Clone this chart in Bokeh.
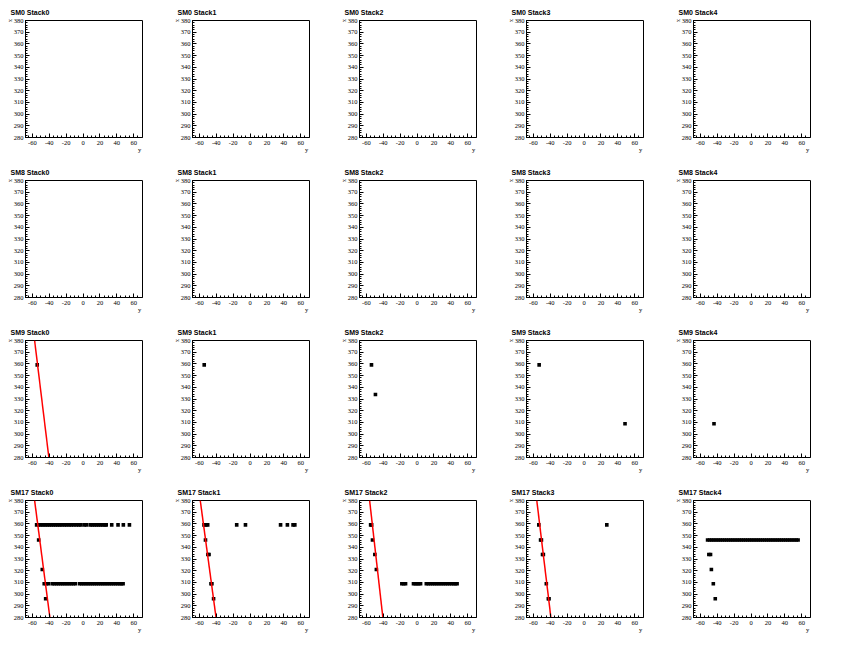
import math
from bokeh.plotting import figure
from bokeh.layouts import gridplot
from bokeh.models import FixedTicker, LinearAxis, Range1d
from bokeh.embed import file_html
from bokeh.resources import INLINE

# ---------------- data ----------------
SM_NAMES = ["SM0", "SM8", "SM9", "SM17"]
STACK_NAMES = ["Stack0", "Stack1", "Stack2", "Stack3", "Stack4"]

X_TICKS = [-60, -40, -20, 0, 20, 40, 60]
X_TICK_LABELS = ["-60", "-40", "-20", "0", "20", "40", "60"]
Y_TICKS = [280, 290, 300, 310, 320, 330, 340, 350, 360, 370, 380]
Y_TICK_LABELS = ["280", "290", "300", "310", "320", "330", "340", "350", "360", "370", "380"]

X_TITLE = "y"   # horizontal axis title (at right end)
Y_TITLE = "x"   # vertical axis title (at top end)

X_RANGE = (-68.2, 70.5)
Y_RANGE = (280, 380)

# hits: layer ("x" value) -> list of "y" values
SM9_STACK0_HITS = {359.2: [-54.3]}
SM9_STACK1_HITS = {359.2: [-54.3]}
SM9_STACK2_HITS = {359.2: [-54.0], 333.8: [-49.3]}
SM9_STACK3_HITS = {359.2: [-53.2], 308.8: [48.6]}
SM9_STACK4_HITS = {308.8: [-43.9]}

SM17_STACK0_HITS = {
    359.2: [-55.0, -52.5, -50.0, -47.5, -45.0, -42.5, -40.0, -37.5, -35.0, -32.5,
            -30.0, -27.5, -25.0, -22.0, -19.5, -16.5, -14.0, -11.0, -8.0, -5.0,
            -2.5, 1.5, 4.0, 8.5, 11.0, 13.5, 16.0, 18.5, 21.0, 23.5, 26.0, 27.5,
            34.0, 41.5, 47.8, 55.0],
    346.3: [-52.6],
    321.0: [-48.3],
    308.8: [-46.0, -43.5, -41.0, -36.5, -34.0, -31.5, -29.0, -26.5, -24.0, -21.5,
            -19.0, -16.5, -14.0, -11.5, -9.0, -4.0, -1.5, 1.0, 3.5, 6.0, 8.5, 11.0,
            13.5, 16.0, 18.5, 21.0, 23.5, 26.0, 28.5, 31.0, 33.5, 36.0, 38.5, 41.0,
            43.5, 45.5, 47.5],
    296.0: [-44.3],
}
SM17_STACK1_HITS = {
    359.2: [-54.6, -52.4, -50.2, -15.8, -5.4, 36.2, 44.3, 51.0, 53.1],
    346.3: [-52.8],
    333.8: [-50.0, -48.6],
    308.8: [-46.3, -45.2],
    296.0: [-43.2],
}
SM17_STACK2_HITS = {
    359.2: [-55.0, -53.8],
    346.3: [-52.8],
    333.8: [-50.0],
    321.0: [-48.2],
    308.8: [-18.0, -15.8, -13.6, -4.2, -2.0, 0.0, 2.0, 4.2, 11.0, 13.5, 16.0, 18.5,
            21.0, 23.5, 26.0, 28.5, 31.0, 33.5, 36.0, 38.5, 41.0, 43.5, 45.5, 47.5],
}
SM17_STACK3_HITS = {
    359.2: [-53.6, 27.0],
    346.3: [-51.5, -50.5],
    333.8: [-49.2, -48.2],
    308.8: [-44.7],
    296.0: [-42.3, -41.5],
}
SM17_STACK4_HITS = {
    346.3: [-51.5, -49.0, -46.5, -44.0, -41.5, -39.0, -36.5, -34.0, -31.5, -29.0,
            -26.5, -24.0, -21.5, -19.0, -16.5, -14.0, -11.5, -9.0, -6.5, -4.0, -1.5,
            1.0, 3.5, 6.0, 8.5, 11.0, 13.5, 16.0, 18.5, 21.0, 23.5, 26.0, 28.5, 31.0,
            33.5, 36.0, 38.5, 41.0, 43.5, 46.0, 48.5, 51.0, 53.5, 55.8],
    333.8: [-50.0, -48.0],
    321.0: [-47.0],
    308.8: [-44.7],
    296.0: [-42.4],
}

# fitted tracks: ("y" values, "x" values)
SM9_STACK0_FIT = ([-57.4, -40.5], [380, 280])
SM17_STACK0_FIT = ([-57.4, -39.3], [380, 280])
SM17_STACK1_FIT = ([-59.0, -40.3], [380, 280])
SM17_STACK2_FIT = ([-56.2, -40.5], [380, 280])
SM17_STACK3_FIT = ([-56.0, -39.3], [380, 280])

PANEL_HITS = {
    ("SM9", 0): SM9_STACK0_HITS, ("SM9", 1): SM9_STACK1_HITS,
    ("SM9", 2): SM9_STACK2_HITS, ("SM9", 3): SM9_STACK3_HITS,
    ("SM9", 4): SM9_STACK4_HITS,
    ("SM17", 0): SM17_STACK0_HITS, ("SM17", 1): SM17_STACK1_HITS,
    ("SM17", 2): SM17_STACK2_HITS, ("SM17", 3): SM17_STACK3_HITS,
    ("SM17", 4): SM17_STACK4_HITS,
}
PANEL_FITS = {
    ("SM9", 0): SM9_STACK0_FIT,
    ("SM17", 0): SM17_STACK0_FIT, ("SM17", 1): SM17_STACK1_FIT,
    ("SM17", 2): SM17_STACK2_FIT, ("SM17", 3): SM17_STACK3_FIT,
}

# ---------------- layout / style ----------------
PW, PH = 167, 160
BL, BR, BT, BB = 25, 25, 20, 23

LABEL_FONT = "Liberation Serif"
TITLE_FONT = "Liberation Sans"


def style_axis(ax):
    ax.major_tick_in = 4
    ax.major_tick_out = 0
    ax.minor_tick_in = 2
    ax.minor_tick_out = 0
    ax.major_tick_line_color = "black"
    ax.minor_tick_line_color = "black"
    ax.axis_line_color = "black"
    ax.major_label_text_font = LABEL_FONT
    ax.major_label_text_font_size = "6.5px"
    ax.major_label_text_color = "black"


def title_axis(ticks, label, orientation):
    ax = LinearAxis(ticker=FixedTicker(ticks=ticks, minor_ticks=[]),
                    major_label_overrides={ticks[0]: label},
                    axis_line_color=None, major_tick_line_color=None,
                    minor_tick_line_color=None, major_tick_in=0, major_tick_out=0,
                    minor_tick_in=0, minor_tick_out=0,
                    major_label_standoff=-2,
                    major_label_orientation=orientation,
                    major_label_text_font=LABEL_FONT,
                    major_label_text_font_size="6.5px",
                    major_label_text_color="black")
    return ax


def make_panel(sm, k):
    p = figure(width=PW, height=PH,
               x_range=Range1d(*X_RANGE), y_range=Range1d(*Y_RANGE),
               output_backend="svg", toolbar_location=None,
               title=f"{sm} {STACK_NAMES[k]}",
               min_border_left=BL, min_border_right=BR,
               min_border_top=BT, min_border_bottom=BB,
               background_fill_color="white", border_fill_color="white")
    p.title.align = "left"
    p.title.offset = -15
    p.title.standoff = 10
    p.title.text_font = TITLE_FONT
    p.title.text_font_style = "bold"
    p.title.text_font_size = "7px"
    p.title.text_color = "black"

    p.grid.visible = False
    p.outline_line_color = "black"
    p.outline_line_width = 1
    p.outline_line_alpha = 1.0

    p.xaxis.ticker = FixedTicker(ticks=X_TICKS, minor_ticks=[v for v in range(-65, 70, 5)])
    p.yaxis.ticker = FixedTicker(ticks=Y_TICKS, minor_ticks=[v for v in range(280, 381, 2)])
    p.xaxis.major_label_overrides = {t: s for t, s in zip(X_TICKS, X_TICK_LABELS)}
    p.yaxis.major_label_overrides = {t: s for t, s in zip(Y_TICKS, Y_TICK_LABELS)}
    style_axis(p.xaxis[0])
    style_axis(p.yaxis[0])
    p.xaxis.major_label_standoff = 3
    p.yaxis.major_label_standoff = 2

    # axis titles at the axis ends (ROOT style)
    p.add_layout(title_axis([67], X_TITLE, "horizontal"), "below")
    p.add_layout(title_axis([380], Y_TITLE, "vertical"), "left")

    hits = PANEL_HITS.get((sm, k))
    if hits:
        xs, ys = [], []
        for layer, vals in hits.items():
            for v in vals:
                xs.append(v)
                ys.append(layer)
        p.scatter(xs, ys, marker="square", size=3.6, color="black", line_width=0)

    fit = PANEL_FITS.get((sm, k))
    if fit:
        p.line(fit[0], fit[1], color="#ff0000", line_width=1.5)

    return p


rows = [[make_panel(sm, k) for k in range(len(STACK_NAMES))] for sm in SM_NAMES]
grid = gridplot(rows, toolbar_location=None)

open("out.html", "w").write(file_html(grid, INLINE, "tracks"))
